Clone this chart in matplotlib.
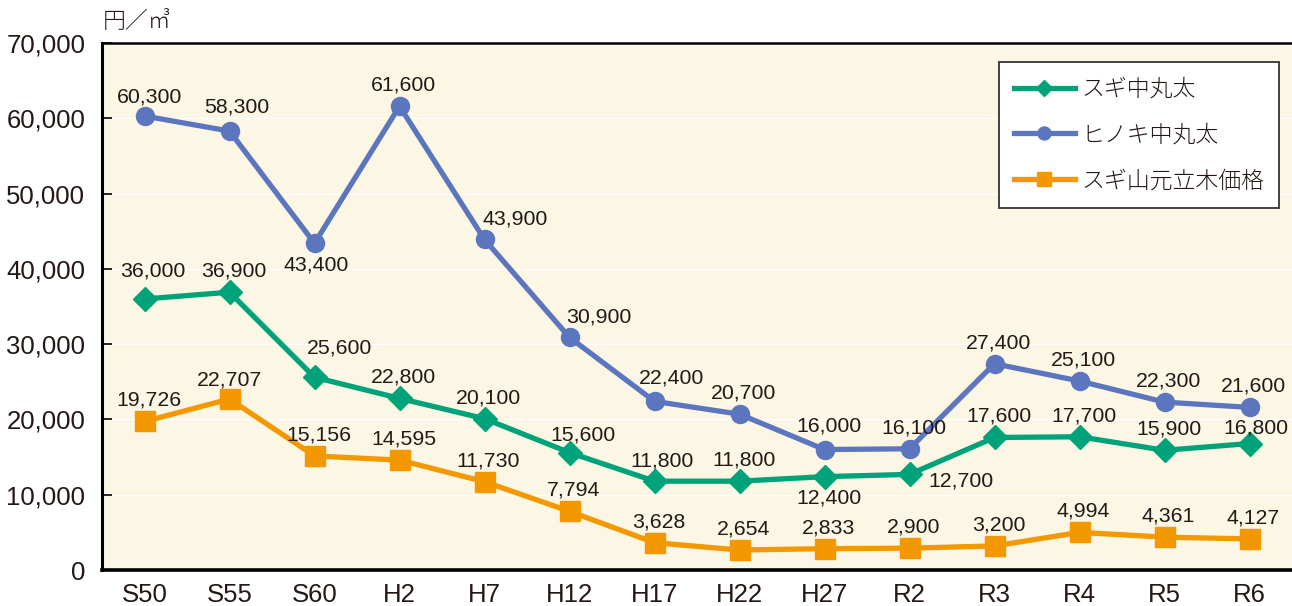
import matplotlib
matplotlib.use("Agg")
import matplotlib.pyplot as plt
from matplotlib.ticker import FuncFormatter, MultipleLocator

categories = ["S50", "S55", "S60", "H2", "H7", "H12", "H17", "H22", "H27", "R2", "R3", "R4", "R5", "R6"]
sugi = [36000, 36900, 25600, 22800, 20100, 15600, 11800, 11800, 12400, 12700, 17600, 17700, 15900, 16800]
hinoki = [60300, 58300, 43400, 61600, 43900, 30900, 22400, 20700, 16000, 16100, 27400, 25100, 22300, 21600]
sugi_stand = [19726, 22707, 15156, 14595, 11730, 7794, 3628, 2654, 2833, 2900, 3200, 4994, 4361, 4127]
series_names = ["スギ中丸太", "ヒノキ中丸太", "スギ山元立木価格"]
unit_label = "円／㎥"

# label offsets in pixels (dx, dy up)
default_off = (4, 21)
sugi_off = {0: (8, 28), 2: (25, 29), 5: (13, 18), 6: (7, 20), 8: (4, -21), 9: (51, -7), 13: (6, 16)}
hinoki_off = {0: (5, 19), 1: (7, 24), 2: (2, -22), 4: (31, 20), 5: (29, 20), 6: (17, 23), 8: (4, 24)}
stand_off = {1: (0, 19)}

GREEN = "#00A27A"
BLUE = "#5B76BE"
ORANGE = "#F39800"
BG = "#FCF7E4"
TXT = "#231815"

W, H = 1292, 606
fig = plt.figure(figsize=(W / 100, H / 100), dpi=100)
fig.patch.set_facecolor("white")
ax = fig.add_axes([102 / W, 36 / H, 1190 / W + 0.01, 527 / H])
ax.set_facecolor(BG)

x = list(range(len(categories)))
num_font = ["Liberation Sans", "Noto Sans CJK JP"]
jp_font = ["Noto Sans CJK JP", "DejaVu Sans"]

ax.plot(x, sugi, color=GREEN, lw=3.8, marker="D", ms=12, label=series_names[0], zorder=3)
ax.plot(x, hinoki, color=BLUE, lw=3.8, marker="o", ms=13, label=series_names[1], zorder=3)
ax.plot(x, sugi_stand, color=ORANGE, lw=3.8, marker="s", ms=14, label=series_names[2], zorder=3)

def annotate(vals, offs):
    for i, v in enumerate(vals):
        dx, dy = offs.get(i, default_off)
        ax.annotate(f"{v:,}", (i, v), xytext=(dx * 0.72, dy * 0.72), textcoords="offset points",
                    ha="center", va="center", fontsize=15.3, color=TXT, family=num_font, zorder=4)

annotate(hinoki, hinoki_off)
annotate(sugi, sugi_off)
annotate(sugi_stand, stand_off)

ax.set_xlim(-0.5, 13.5 + 0.01 * W / 85)
ax.set_ylim(0, 70000)
ax.yaxis.set_major_locator(MultipleLocator(10000))
ax.yaxis.set_major_formatter(FuncFormatter(lambda v, p: f"{int(v):,}"))
ax.set_xticks(x)
ax.set_xticklabels(categories)
ax.grid(axis="y", color="white", lw=1.0, zorder=1)
ax.set_axisbelow(True)

ax.tick_params(axis="y", direction="in", length=7, width=1.2, color="black", pad=12,
               labelsize=18.5, labelcolor=TXT)
ax.tick_params(axis="x", length=0, pad=9, labelsize=18.5, labelcolor=TXT)
for lab in ax.get_xticklabels() + ax.get_yticklabels():
    lab.set_family(num_font)

ax.spines["right"].set_visible(False)
ax.spines["left"].set_linewidth(2.2)
ax.spines["bottom"].set_linewidth(2.6)
ax.spines["top"].set_linewidth(1.8)
for s in ("left", "bottom", "top"):
    ax.spines[s].set_color("black")

leg = ax.legend(loc="upper right", bbox_to_anchor=((1279 - 102) / 1190 / (1 + 0.01 * W / 1190), (570 - 62) / 527),
                borderaxespad=0, frameon=True, fancybox=False, framealpha=1, markerscale=0.72,
                facecolor="white", edgecolor="#333333", handlelength=2.7, handletextpad=0.25,
                labelspacing=0.9, borderpad=0.65, prop={"family": jp_font, "size": 16.5, "weight": "light"})
leg.get_frame().set_linewidth(1.3)
for t in leg.get_texts():
    t.set_color(TXT)

fig.text(103 / W, 1 - 22 / H, unit_label, ha="left", va="center", fontsize=16.5,
         family=jp_font, weight="light", color=TXT)

fig.savefig("out.png", dpi=100, facecolor="white")
